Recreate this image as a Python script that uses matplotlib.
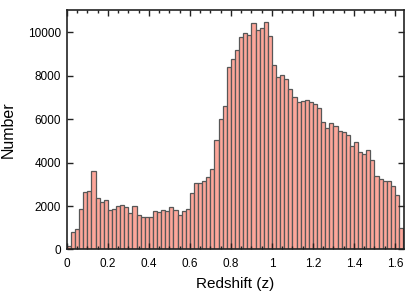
import numpy as np
import matplotlib
matplotlib.use("Agg")
import matplotlib.pyplot as plt
from matplotlib.ticker import MultipleLocator

plt.rcParams['font.family'] = ['Liberation Sans', 'DejaVu Sans']

bin_width = 0.02
bin_start = 0.0
counts = [150, 800, 930, 1850, 2640, 2700, 3610, 2360, 2200, 2270,
          1820, 1880, 1990, 2040, 1950, 1670, 1990, 1580, 1500, 1480,
          1510, 1770, 1710, 1800, 1790, 1960, 1820, 1580, 1780, 1840,
          2620, 3060, 3060, 3160, 3330, 3700, 5030, 6000, 6590, 8380,
          8750, 9200, 9770, 9980, 9850, 10420, 10120, 10190, 10460, 9810,
          8490, 7950, 8010, 7840, 7390, 7010, 6770, 6840, 6880, 6770,
          6710, 6510, 5850, 5600, 5820, 5690, 5460, 5390, 5260, 4780,
          4950, 4490, 4410, 4570, 4100, 3400, 3260, 3130, 3150, 2930,
          2500, 970]
x_ticks = [0, 0.2, 0.4, 0.6, 0.8, 1.0, 1.2, 1.4, 1.6]
x_tick_labels = ["0", "0.2", "0.4", "0.6", "0.8", "1", "1.2", "1.4", "1.6"]
y_ticks = [0, 2000, 4000, 6000, 8000, 10000]

lefts = bin_start + bin_width * np.arange(len(counts))

fig = plt.figure(figsize=(4.15, 2.97), dpi=100)
ax = fig.add_axes([0.161, 0.160, 0.813, 0.805])
ax.bar(lefts, counts, width=bin_width, align='edge',
       color='#FDA69A', edgecolor='#575757', linewidth=0.9)

ax.set_xlim(0, 1.645)
ax.set_ylim(0, 11000)
ax.set_xticks(x_ticks)
ax.set_xticklabels(x_tick_labels)
ax.set_yticks(y_ticks)
ax.xaxis.set_minor_locator(MultipleLocator(0.05))
ax.tick_params(axis='both', which='both', direction='in', top=True, right=True,
               labelsize=8.5, color='#222222')
ax.tick_params(which='major', length=4, width=1)
ax.tick_params(which='minor', length=2.5, width=1)
ax.tick_params(axis='x', pad=6)
ax.tick_params(axis='y', pad=4)

for s in ax.spines.values():
    s.set_linewidth(1.2)
    s.set_color('#222222')

ax.set_xlabel("Redshift (z)", fontsize=11, labelpad=5)
ax.set_ylabel("Number", fontsize=11.5, labelpad=9)

fig.savefig("out.png", dpi=100)
